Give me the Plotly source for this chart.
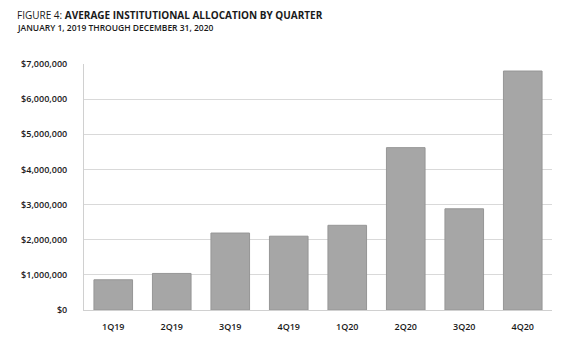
import plotly.graph_objects as go

quarters = ["1Q19", "2Q19", "3Q19", "4Q19", "1Q20", "2Q20", "3Q20", "4Q20"]
allocation = [860000, 1040000, 2190000, 2100000, 2410000, 4620000, 2880000, 6800000]
tick_vals = [0, 1000000, 2000000, 3000000, 4000000, 5000000, 6000000, 7000000]
tick_text = ["$0", "$1,000,000", "$2,000,000", "$3,000,000", "$4,000,000",
             "$5,000,000", "$6,000,000", "$7,000,000"]

W, H = 572, 352
L, R, T, B = 84, 20, 64, 42
pw, ph = W - L - R, H - T - B

fig = go.Figure(go.Bar(
    x=quarters, y=allocation,
    marker=dict(color="#a6a6a6", line=dict(color="#969696", width=1)),
    hoverinfo="skip",
))

font = "Open Sans"
fig.update_layout(
    width=W, height=H,
    margin=dict(l=L, r=R, t=T, b=B),
    paper_bgcolor="white", plot_bgcolor="white",
    bargap=0.34,
    showlegend=False,
    font=dict(family=font, color="#1a1a1a"),
    xaxis=dict(
        showgrid=False, showline=True, linecolor="#d0d0d0", linewidth=1,
        ticks="", tickfont=dict(size=9, family=font, color="#1a1a1a", weight=600),
        ticklabelstandoff=8,
    ),
    yaxis=dict(
        range=[0, 7000000], tickvals=tick_vals, ticktext=tick_text,
        showgrid=True, gridcolor="#d9d9d9", gridwidth=1,
        showline=True, linecolor="#d0d0d0", linewidth=1,
        zeroline=False, ticks="",
        tickfont=dict(size=9, family=font, color="#1a1a1a", weight=600),
        ticklabelstandoff=14,
    ),
    annotations=[
        dict(text="FIGURE 4: <b>AVERAGE INSTITUTIONAL ALLOCATION BY QUARTER</b>",
             xref="paper", yref="paper", x=(15 - L) / pw, y=(H - B - 15) / ph,
             xanchor="left", yanchor="middle", showarrow=False,
             font=dict(size=10, family=font, color="#1a1a1a")),
        dict(text="JANUARY 1, 2019 THROUGH DECEMBER 31, 2020",
             xref="paper", yref="paper", x=(15 - L) / pw, y=(H - B - 27) / ph,
             xanchor="left", yanchor="middle", showarrow=False,
             font=dict(size=8.5, family=font, color="#1a1a1a", weight=600)),
    ],
)

fig.write_html("out.html")
